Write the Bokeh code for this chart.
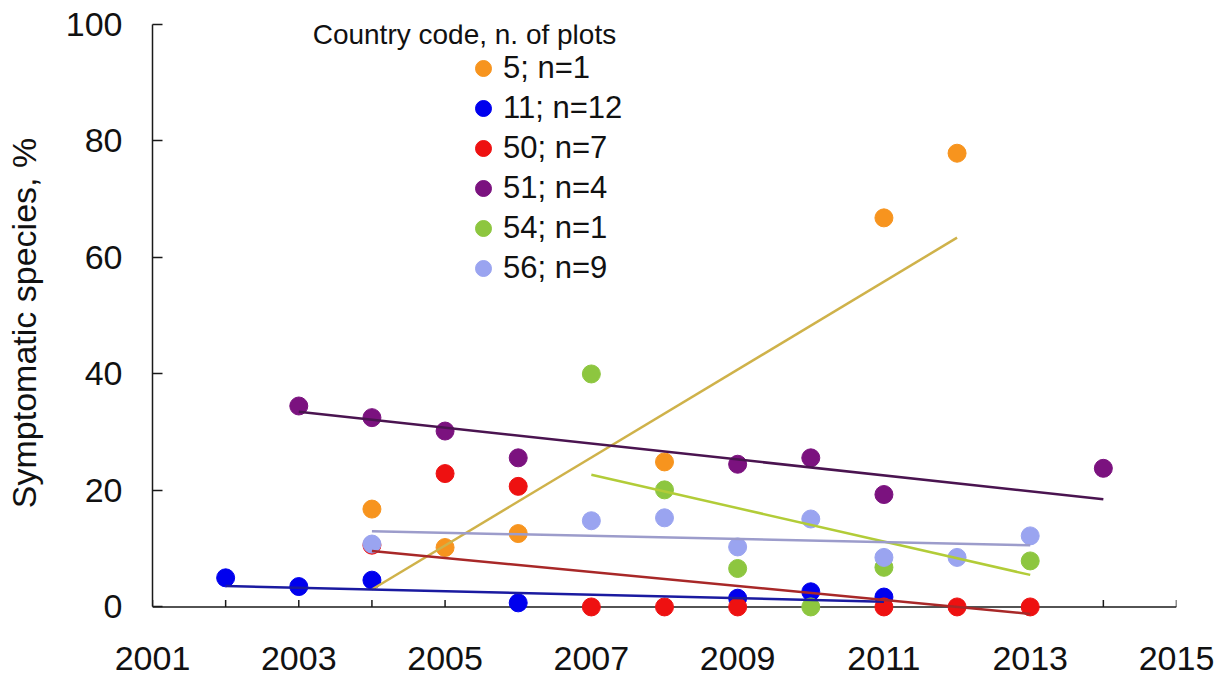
import math
from bokeh.plotting import figure
from bokeh.models import FixedTicker, Legend, LegendItem, Span, Label
from bokeh.embed import file_html
from bokeh.resources import INLINE

# ---------------- data ----------------
series_names = ["5; n=1", "11; n=12", "50; n=7", "51; n=4", "54; n=1", "56; n=9"]
point_colors = ["#F7941E", "#0000EE", "#EE1111", "#7B127F", "#8DC63F", "#9AA4F0"]
trend_colors = ["#CFB24A", "#1A1AA0", "#A82828", "#4A1450", "#B2CC38", "#9C9CCB"]

years_5 = [2004, 2005, 2006, 2008, 2011, 2012]
pct_5 = [16.8, 10.2, 12.6, 24.9, 66.8, 77.9]

years_11 = [2002, 2003, 2004, 2006, 2009, 2010, 2011]
pct_11 = [5.0, 3.5, 4.6, 0.7, 1.5, 2.6, 1.7]

years_50 = [2004, 2005, 2006, 2007, 2008, 2009, 2011, 2012, 2013]
pct_50 = [10.6, 22.9, 20.7, 0.0, 0.0, 0.0, 0.0, 0.0, 0.0]

years_51 = [2003, 2004, 2005, 2006, 2009, 2010, 2011, 2014]
pct_51 = [34.5, 32.5, 30.2, 25.6, 24.5, 25.6, 19.3, 23.8]

years_54 = [2007, 2008, 2009, 2010, 2011, 2013]
pct_54 = [40.0, 20.1, 6.6, 0.0, 6.8, 7.9]

years_56 = [2004, 2007, 2008, 2009, 2010, 2011, 2012, 2013]
pct_56 = [10.8, 14.8, 15.3, 10.3, 15.1, 8.5, 8.5, 12.2]

# linear trend lines: start/end year and value
trend_start_year = [2004, 2002, 2004, 2003, 2007, 2004]
trend_start_pct = [3.0, 3.6, 9.6, 33.5, 22.7, 13.0]
trend_end_year = [2012, 2011, 2013, 2014, 2013, 2013]
trend_end_pct = [63.4, 0.9, -1.2, 18.5, 5.5, 10.6]

x_tick_years = list(range(2001, 2016))
x_label_years = [2001, 2003, 2005, 2007, 2009, 2011, 2013, 2015]
y_ticks = [0, 20, 40, 60, 80, 100]

legend_title = "Country code, n. of plots"
y_title = "Symptomatic species, %"

all_years = [years_5, years_11, years_50, years_51, years_54, years_56]
all_pct = [pct_5, pct_11, pct_50, pct_51, pct_54, pct_56]

FONT = "Liberation Sans"
AXIS_COLOR = "#1a1a1a"
TEXT_COLOR = "#111111"

# ---------------- figure ----------------
p = figure(width=1226, height=680, x_range=(2001, 2015), y_range=(-2.5, 100),
           output_backend="svg", toolbar_location=None,
           min_border_left=152, min_border_right=50, min_border_top=24,
           min_border_bottom=59)
p.outline_line_color = None
p.xgrid.visible = False
p.ygrid.visible = False
p.background_fill_color = "white"
p.border_fill_color = "white"

# x axis (labels only; line and ticks are drawn at y = 0 below)
xa = p.xaxis[0]
xa.ticker = FixedTicker(ticks=x_tick_years)
xa.major_label_overrides = {y: (str(y) if y in x_label_years else "") for y in x_tick_years}
xa.axis_line_color = None
xa.major_tick_line_color = None
xa.minor_tick_line_color = None
xa.major_label_standoff = 19
xa.major_label_text_font = FONT
xa.major_label_text_font_size = "34px"
xa.major_label_text_color = TEXT_COLOR

# y axis
ya = p.yaxis[0]
ya.ticker = FixedTicker(ticks=y_ticks)
ya.bounds = (0, 100)
ya.axis_line_color = AXIS_COLOR
ya.axis_line_width = 1.5
ya.major_tick_in = 10
ya.major_tick_out = 0
ya.major_tick_line_color = AXIS_COLOR
ya.major_tick_line_width = 1.5
ya.minor_tick_line_color = None
ya.major_label_standoff = 30
ya.major_label_text_font = FONT
ya.major_label_text_font_size = "34px"
ya.major_label_text_color = TEXT_COLOR
ya.axis_label = y_title
ya.axis_label_text_font = FONT
ya.axis_label_text_font_size = "34px"
ya.axis_label_text_font_style = "normal"
ya.axis_label_text_color = TEXT_COLOR
ya.axis_label_standoff = 20

# x axis line at y = 0 and inward ticks
base = Span(location=0, dimension="width", line_color=AXIS_COLOR, line_width=1.5, level="underlay")
p.add_layout(base)
p.ray(x=x_tick_years, y=[0] * len(x_tick_years), length=7, length_units="screen",
      angle=math.pi / 2, line_color=AXIS_COLOR, line_width=1.5, level="underlay")

# points
point_renderers = []
for yrs, vals, col in zip(all_years, all_pct, point_colors):
    r = p.scatter(x=yrs, y=vals, size=18, fill_color=col, line_color=col, line_width=1)
    point_renderers.append(r)

# trend lines
for i in range(len(series_names)):
    p.line(x=[trend_start_year[i], trend_end_year[i]],
           y=[trend_start_pct[i], trend_end_pct[i]],
           line_color=trend_colors[i], line_width=2.5)

# legend
items = [LegendItem(label=n, renderers=[r]) for n, r in zip(series_names, point_renderers)]
legend = Legend(items=items, location=(311, 333), orientation="vertical",
                border_line_alpha=0, background_fill_alpha=0, padding=0, margin=0,
                spacing=0, glyph_width=40, glyph_height=40, label_height=40,
                label_standoff=0, label_text_font=FONT, label_text_font_size="31px",
                label_text_color=TEXT_COLOR)
p.add_layout(legend)

title_lbl = Label(x=2003.19, y=98.3, text=legend_title, text_font=FONT,
                  text_font_size="28px", text_color=TEXT_COLOR, text_baseline="alphabetic")
p.add_layout(title_lbl)

open("out.html", "w").write(file_html(p, INLINE))
